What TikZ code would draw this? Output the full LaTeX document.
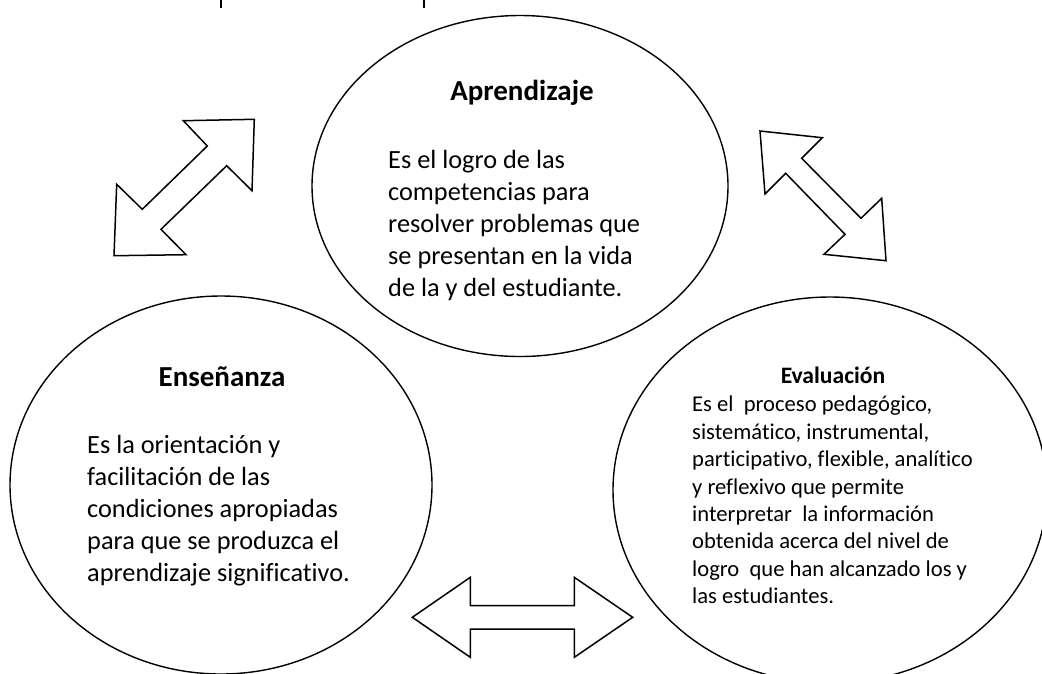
\documentclass[tikz,border=0pt]{standalone}
\usepackage{fontspec}
\setmainfont{Carlito}[Ligatures=NoCommon]
\usetikzlibrary{shapes.geometric}
\begin{document}
\begin{tikzpicture}[x=1pt,y=-1pt,
  circ/.style={draw,ellipse,line width=1.4pt,inner sep=0pt},
  blockarrow/.style={draw,line width=1.5pt,line join=miter,fill=white},
  head/.style={font=\bfseries\fontsize{29}{34}\selectfont,inner sep=0pt,anchor=base},
  body/.style={font=\fontsize{26.3}{31.8}\selectfont,align=left,inner sep=0pt,anchor=north west},
  smallhead/.style={font=\bfseries\fontsize{23.6}{28}\selectfont,inner sep=0pt,anchor=base},
  smallbody/.style={font=\fontsize{22.6}{27.4}\selectfont,align=left,inner sep=0pt,anchor=north west}]
\useasboundingbox (0,0) rectangle (1042,673);
\clip (0,0) rectangle (1042,673);
% title descenders (cut off)
\draw[line width=2pt] (221,0) -- (221,8);
\draw[line width=2pt] (424,0) -- (424,8);
% ellipses
\node[circ,minimum width=416pt,minimum height=341pt] (apr) at (520,186) {};
\node[circ,minimum width=422pt,minimum height=378pt] (ens) at (221,485) {};
\node[circ,minimum width=434pt,minimum height=386pt] (eva) at (830,490) {};
% texts
\node[head] (aprh) at (522,100.5) {Aprendizaje};
\node[body] (aprb) at (388,150.5) {Es el logro de las\\competencias para\\resolver problemas que\\se presentan en la vida\\de la y del estudiante.};
\node[head] (ensh) at (222,386.7) {Enseñanza};
\node[body] (ensb) at (87,435.5) {Es la orientación y\\facilitación de las\\condiciones apropiadas\\para que se produzca el\\aprendizaje significativo.};
\node[smallhead] (evah) at (833,383.3) {Evaluación};
\node[smallbody] (evab) at (692,396) {Es el\ \ proceso pedagógico,\\sistemático, instrumental,\\participativo, flexible, analítico\\y reflexivo que permite\\interpretar\ \ la información\\obtenida acerca del nivel de\\logro\ \ que han alcanzado los y\\las estudiantes.};
% block arrows
\draw[blockarrow] (254.3,119.3) -- (183.3,120.7) -- (207.3,146) -- (142.3,209.3) -- (116.7,184.3)
  -- (114,255.7) -- (186,254.7) -- (161,229.3) -- (226.7,165.7) -- (252,190.7) -- cycle;
\draw[blockarrow] (760,131) -- (822.3,137.7) -- (801.7,158.3) -- (861,218.3) -- (881.7,198.3)
  -- (886,260.7) -- (824,254.3) -- (845,234.3) -- (785.7,173.3) -- (765,194) -- cycle;
\draw[blockarrow] (412.3,617.3) -- (470.3,577.3) -- (470.3,605.7) -- (574.3,605.7) -- (574.3,577.3)
  -- (632.7,617.3) -- (574.3,657.3) -- (574.3,629) -- (470.3,629) -- (470.3,657.3) -- cycle;
\end{tikzpicture}
\end{document}
